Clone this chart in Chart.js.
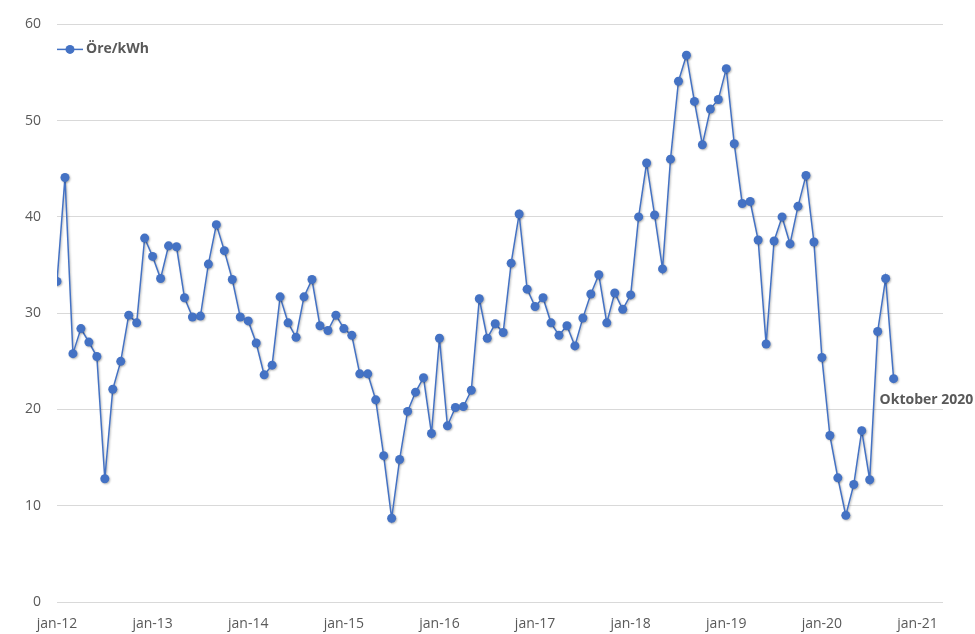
<!DOCTYPE html>
<html>
<head>
<meta charset="utf-8">
<script src="https://cdn.jsdelivr.net/npm/chart.js@4.4.0/dist/chart.umd.min.js"></script>
<style>
  html, body { margin: 0; padding: 0; background: #fff; }
  #wrap { width: 975px; height: 634px; }
</style>
</head>
<body>
<div id="wrap"><canvas id="chart" width="975" height="634"></canvas></div>
<script>
// monthly price, jan 2012 .. okt 2020 (öre/kWh)
const seriesName = "Öre/kWh";
const values = [
  33.3, 44.1, 25.8, 28.4, 27.0, 25.5, 12.8, 22.1, 25.0, 29.8, 29.0, 37.8,
  35.9, 33.6, 37.0, 36.9, 31.6, 29.6, 29.7, 35.1, 39.2, 36.5, 33.5, 29.6,
  29.2, 26.9, 23.6, 24.6, 31.7, 29.0, 27.5, 31.7, 33.5, 28.7, 28.2, 29.8,
  28.4, 27.7, 23.7, 23.7, 21.0, 15.2, 8.7, 14.8, 19.8, 21.8, 23.3, 17.5,
  27.4, 18.3, 20.2, 20.3, 22.0, 31.5, 27.4, 28.9, 28.0, 35.2, 40.3, 32.5,
  30.7, 31.6, 29.0, 27.7, 28.7, 26.6, 29.5, 32.0, 34.0, 29.0, 32.1, 30.4,
  31.9, 40.0, 45.6, 40.2, 34.6, 46.0, 54.1, 56.8, 52.0, 47.5, 51.2, 52.2,
  55.4, 47.6, 41.4, 41.6, 37.6, 26.8, 37.5, 40.0, 37.2, 41.1, 44.3, 37.4,
  25.4, 17.3, 12.9, 9.0, 12.2, 17.8, 12.7, 28.1, 33.6, 23.2
];
// x ticks: month index from jan-12
const tickMonths = [0, 12, 24, 36, 48, 60, 72, 84, 96, 108];
const tickLabels = ["jan-12", "jan-13", "jan-14", "jan-15", "jan-16", "jan-17", "jan-18", "jan-19", "jan-20", "jan-21"];
const yTicks = [0, 10, 20, 30, 40, 50, 60];
const lastLabel = "Oktober 2020";

const blue = "#4472C4";
const textGrey = "#595959";
const font = "'Open Sans', 'Noto Sans', sans-serif";

const extras = {
  id: "extras",
  beforeDatasetsDraw(chart) {
    const ctx = chart.ctx;
    ctx.save();
    ctx.shadowColor = "rgba(0,0,0,0.28)";
    ctx.shadowBlur = 2;
    ctx.shadowOffsetX = 1;
    ctx.shadowOffsetY = 1;
  },
  afterDatasetsDraw(chart) {
    const ctx = chart.ctx;
    ctx.restore();
    const area = chart.chartArea;

    // legend inside plot, top-left
    const ly = area.top + 25;
    ctx.save();
    ctx.strokeStyle = blue;
    ctx.lineWidth = 1.5;
    ctx.beginPath();
    ctx.moveTo(area.left, ly);
    ctx.lineTo(area.left + 26, ly);
    ctx.stroke();
    ctx.fillStyle = blue;
    ctx.beginPath();
    ctx.arc(area.left + 13, ly, 4.5, 0, Math.PI * 2);
    ctx.fill();
    ctx.fillStyle = textGrey;
    ctx.font = "bold 14px " + font;
    ctx.textBaseline = "middle";
    ctx.textAlign = "left";
    ctx.fillText(chart.data.datasets[0].label, area.left + 29, ly);

    // label for last point
    const meta = chart.getDatasetMeta(0);
    const pt = meta.data[meta.data.length - 1];
    ctx.fillText(lastLabel, pt.x - 14, pt.y + 21);
    ctx.restore();
  }
};

new Chart(document.getElementById("chart"), {
  type: "line",
  data: {
    datasets: [{
      label: seriesName,
      data: values.map((v, i) => ({ x: i, y: v })),
      borderColor: blue,
      backgroundColor: blue,
      borderWidth: 1.5,
      pointRadius: 4.5,
      pointHoverRadius: 4.5,
      pointBorderWidth: 0,
      tension: 0
    }]
  },
  options: {
    responsive: false,
    animation: false,
    layout: { padding: { top: 19, right: 32, bottom: 0, left: 0 } },
    plugins: {
      legend: { display: false },
      tooltip: { enabled: false }
    },
    scales: {
      x: {
        type: "linear",
        min: 0,
        max: 111.2,
        grid: { display: false },
        border: { display: false },
        afterBuildTicks(scale) {
          scale.ticks = tickMonths.map(v => ({ value: v }));
        },
        afterFit(scale) { scale.height = 32; },
        ticks: {
          padding: 6,
          color: textGrey,
          font: { family: font, size: 14 },
          maxRotation: 0,
          autoSkip: false,
          callback: (v) => tickLabels[tickMonths.indexOf(v)]
        }
      },
      y: {
        min: 0,
        max: 60,
        afterBuildTicks(scale) {
          scale.ticks = yTicks.map(v => ({ value: v }));
        },
        afterFit(scale) { scale.width = 57; },
        grid: { color: "#d9d9d9", lineWidth: 1, drawTicks: false },
        border: { display: false },
        ticks: {
          padding: 16,
          color: textGrey,
          font: { family: font, size: 14 }
        }
      }
    }
  },
  plugins: [extras]
});
</script>
</body>
</html>
